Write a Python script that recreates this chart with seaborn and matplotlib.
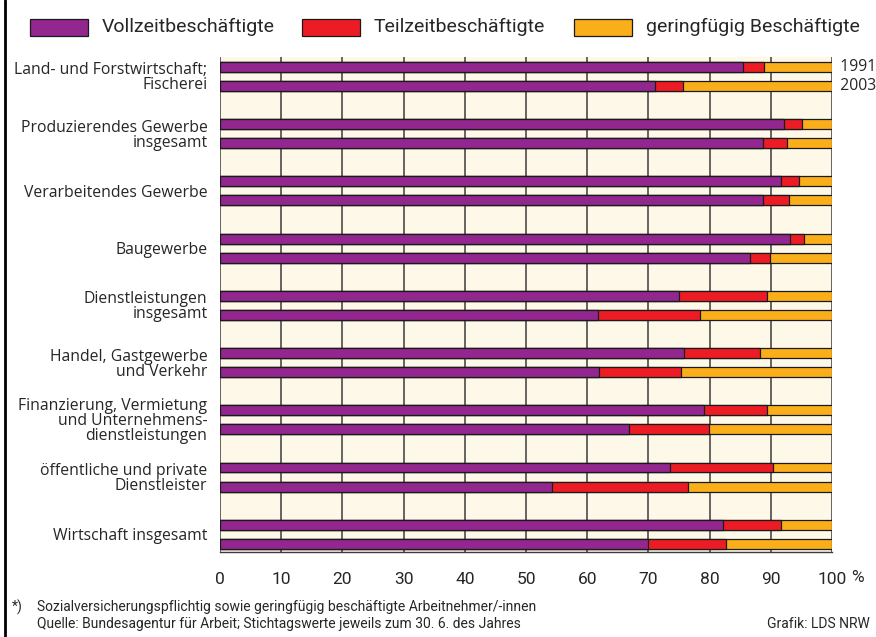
import matplotlib
matplotlib.use("Agg")
import matplotlib.pyplot as plt
import seaborn as sns
import pandas as pd
from matplotlib.patches import Rectangle
from matplotlib.lines import Line2D

categories = [
    "Land- und Forstwirtschaft;\nFischerei",
    "Produzierendes Gewerbe\ninsgesamt",
    "Verarbeitendes Gewerbe",
    "Baugewerbe",
    "Dienstleistungen\ninsgesamt",
    "Handel, Gastgewerbe\nund Verkehr",
    "Finanzierung, Vermietung\nund Unternehmens-\ndienstleistungen",
    "öffentliche und private\nDienstleister",
    "Wirtschaft insgesamt",
]
years = ["1991", "2003"]
series = ["Vollzeitbeschäftigte", "Teilzeitbeschäftigte", "geringfügig Beschäftigte"]

voll_1991 = [85.5, 92.2, 91.6, 93.2, 75.0, 75.8, 79.1, 73.6, 82.2]
teil_1991 = [3.4, 2.9, 3.0, 2.2, 14.3, 12.4, 10.2, 16.8, 9.4]
gering_1991 = [11.1, 4.9, 5.4, 4.6, 10.7, 11.8, 10.7, 9.6, 8.4]
voll_2003 = [71.0, 88.7, 88.8, 86.6, 61.7, 62.0, 66.8, 54.2, 69.9]
teil_2003 = [4.7, 4.0, 4.2, 3.2, 16.7, 13.3, 13.1, 22.3, 12.8]
gering_2003 = [24.3, 7.3, 7.0, 10.2, 21.6, 24.7, 20.1, 23.5, 17.3]

xticks = [0, 10, 20, 30, 40, 50, 60, 70, 80, 90, 100]
footnote1 = "Sozialversicherungspflichtig sowie geringfügig beschäftigte Arbeitnehmer/-innen"
footnote2 = "Quelle: Bundesagentur für Arbeit; Stichtagswerte jeweils zum 30. 6. des Jahres"
credit = "Grafik: LDS NRW"

colors = ["#93278F", "#ED1C24", "#FAAF1A"]
bg = "#FDF8E8"
grid_c = "#3c3c3c"

sns.set_style("white")
plt.rcParams["font.family"] = ["Open Sans", "DejaVu Sans"]
narrow = ["Roboto", "DejaVu Sans"]

rows = []
for i in range(len(categories)):
    for j, (v, t, g) in enumerate([(voll_1991[i], teil_1991[i], gering_1991[i]),
                                    (voll_2003[i], teil_2003[i], gering_2003[i])]):
        rows.append(dict(pos=i * 3 + j, voll=v, teil=t, gering=g))
df = pd.DataFrame(rows)
df["c1"] = df["voll"]
df["c2"] = df["voll"] + df["teil"]
df["c3"] = df["voll"] + df["teil"] + df["gering"]

W, H = 876, 637
fig = plt.figure(figsize=(8.76, 6.37), dpi=100)
ax = fig.add_axes([220 / W, 1 - 552 / H, 612 / W, 495 / H])
ax.set_facecolor(bg)

for col, c in zip(["c3", "c2", "c1"], colors[::-1]):
    sns.barplot(data=df, x=col, y="pos", orient="y", native_scale=True,
                color=c, saturation=1, width=0.52, edgecolor="#1a1a1a",
                linewidth=0.9, errorbar=None, ax=ax, zorder=3)

ax.set_xlim(0, 100)
ax.set_ylim(25.43, -0.52)
ax.set_xticks(xticks)
ax.set_xticklabels([str(t) for t in xticks], fontfamily=narrow, fontsize=12.5)
ax.set_yticks([i * 3 + 0.5 for i in range(len(categories))])
ax.set_yticklabels(categories, fontsize=11.3, linespacing=0.92)
ax.tick_params(axis="y", length=0, pad=9)
ax.tick_params(axis="x", length=7.5, width=1, color=grid_c, pad=7, direction="out")
ax.set_xlabel("")
ax.set_ylabel("")
ax.grid(axis="x", color=grid_c, linewidth=1.1, zorder=1)
ax.set_axisbelow(True)
for s in ["top", "left", "right"]:
    ax.spines[s].set_visible(False)
ax.spines["bottom"].set_color(grid_c)
ax.spines["bottom"].set_linewidth(1)

ax.text(100, 0, "  " + years[0], transform=ax.transData, ha="left", va="center", fontsize=11.3)
ax.text(100, 1, "  " + years[1], transform=ax.transData, ha="left", va="center", fontsize=11.3)

# percent sign after the last tick label
fig.text(851 / W, 1 - 578 / H, "%", ha="left", va="center", fontfamily=narrow, fontsize=12.5)

# legend
lx = [30, 302, 574]
for x0, c, lab in zip(lx, colors, series):
    fig.add_artist(Rectangle((x0 / W, 1 - 36 / H), 58 / W, 17 / H, transform=fig.transFigure,
                             facecolor=c, edgecolor="#1a1a1a", linewidth=0.9))
    fig.text((x0 + 72) / W, 1 - 27 / H, lab, ha="left", va="center", fontfamily=narrow, fontsize=14)

# footnotes
fs = 10
fig.text(12 / W, 1 - 607 / H, "*)", ha="left", va="center", fontfamily=narrow, fontsize=fs)
fig.text(37 / W, 1 - 607 / H, footnote1, ha="left", va="center", fontfamily=narrow, fontsize=fs)
fig.text(37 / W, 1 - 624 / H, footnote2, ha="left", va="center", fontfamily=narrow, fontsize=fs)
fig.text(870 / W, 1 - 624 / H, credit, ha="right", va="center", fontfamily=narrow, fontsize=fs)

fig.add_artist(Line2D([4.5 / W, 4.5 / W], [0, 1], transform=fig.transFigure, color="black", linewidth=2))

fig.savefig("out.png", dpi=100, facecolor="white")
